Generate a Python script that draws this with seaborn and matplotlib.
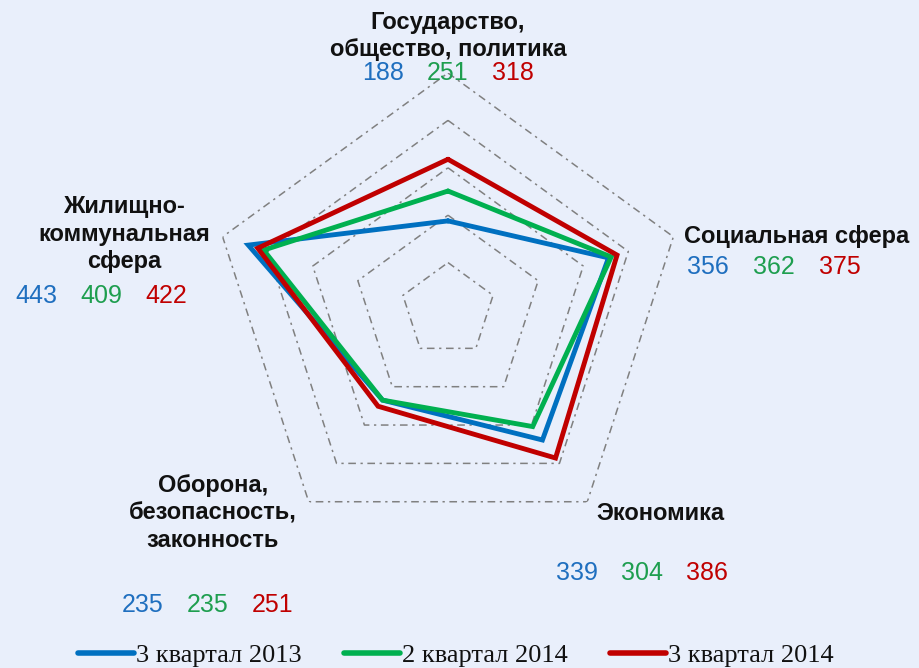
import numpy as np
import pandas as pd
import matplotlib
matplotlib.use("Agg")
import matplotlib.pyplot as plt
from matplotlib.lines import Line2D
import seaborn as sns

# ---- data ----
categories = ["Государство,\nобщество, политика", "Социальная сфера", "Экономика",
              "Оборона,\nбезопасность,\nзаконность", "Жилищно-\nкоммунальная\nсфера"]
series_names = ["3 квартал 2013", "2 квартал 2014", "3 квартал 2014"]
q3_2013 = [188, 356, 339, 235, 443]
q2_2014 = [251, 362, 304, 235, 409]
q3_2014 = [318, 375, 386, 251, 422]
ring_levels = [100, 200, 300, 400, 500]

line_colors = ["#0070C0", "#00B050", "#C00000"]
num_colors = ["#1F6FBF", "#1E9E4F", "#C00000"]
bg = "#E9EFFB"

sns.set_theme(style="white")
plt.rcParams["font.family"] = ["Liberation Sans", "DejaVu Sans"]

W, H = 919, 668
fig = plt.figure(figsize=(W / 100, H / 100), dpi=100, facecolor=bg)

def px(x, y):
    return x / W, 1 - y / H

cx, cy, R = 448, 310, 237
ax = fig.add_axes([(cx - R) / W, (H - cy - R) / H, 2 * R / W, 2 * R / H], projection="polar")
ax.set_facecolor("none")
ax.set_theta_offset(np.pi / 2)
ax.set_theta_direction(-1)

n = len(categories)
theta = np.arange(n) * 2 * np.pi / n
theta_closed = np.append(theta, 2 * np.pi)

rows = []
for name, vals in zip(series_names, [q3_2013, q2_2014, q3_2014]):
    for t, v in zip(theta_closed, list(vals) + [vals[0]]):
        rows.append({"series": name, "theta": t, "value": v})
df = pd.DataFrame(rows)

for r in ring_levels:
    ax.plot(theta_closed, [r] * (n + 1), color="#808080", lw=1.1,
            ls=(0, (5, 3, 1.5, 3)), zorder=1)

sns.lineplot(data=df, x="theta", y="value", hue="series", palette=line_colors,
             sort=False, estimator=None, linewidth=3.5, ax=ax, legend=False, zorder=3)
for ln in ax.lines[len(ring_levels):]:
    ln.set_solid_joinstyle("miter")

ax.set_ylim(0, 500)
ax.grid(False)
ax.spines["polar"].set_visible(False)
ax.set_xticks([])
ax.set_yticks([])
ax.set_xlabel("")
ax.set_ylabel("")

# ---- category labels ----
label_layout = [  # (x, y, ha)
    (448, 36, "center"),
    (684, 237, "left"),
    (660, 513, "center"),
    (213, 513, "center"),
    (124, 234, "center"),
]
for cat, (x, y, ha) in zip(categories, label_layout):
    fig.text(*px(x, y), cat, ha=ha, va="center", fontsize=17, fontweight="bold",
             color="#111111", linespacing=1.25, family="Liberation Sans")

# ---- value labels ----
value_layout = [  # (center x of first number, y, pitch)
    (383, 73, 65),
    (708, 267, 66),
    (577, 573, 65),
    (143, 605, 65),
    (36, 296, 65),
]
all_vals = [q3_2013, q2_2014, q3_2014]
for i, (x0, y, pitch) in enumerate(value_layout):
    for j, vals in enumerate(all_vals):
        fig.text(*px(x0 + j * pitch, y), str(vals[i]),
                 ha="center", va="center", fontsize=18, color=num_colors[j],
                 family="Liberation Sans")

# ---- legend ----
handles = [Line2D([0], [0], color=c, lw=4) for c in line_colors]
leg = fig.legend(handles, series_names, loc="center", bbox_to_anchor=px(456, 655),
                 ncol=3, frameon=False, handlelength=2.1, handletextpad=0.1,
                 columnspacing=1.6, prop={"family": "Liberation Serif", "size": 19})
for t in leg.get_texts():
    t.set_color("#111111")

fig.savefig("out.png", dpi=100, facecolor=bg)
